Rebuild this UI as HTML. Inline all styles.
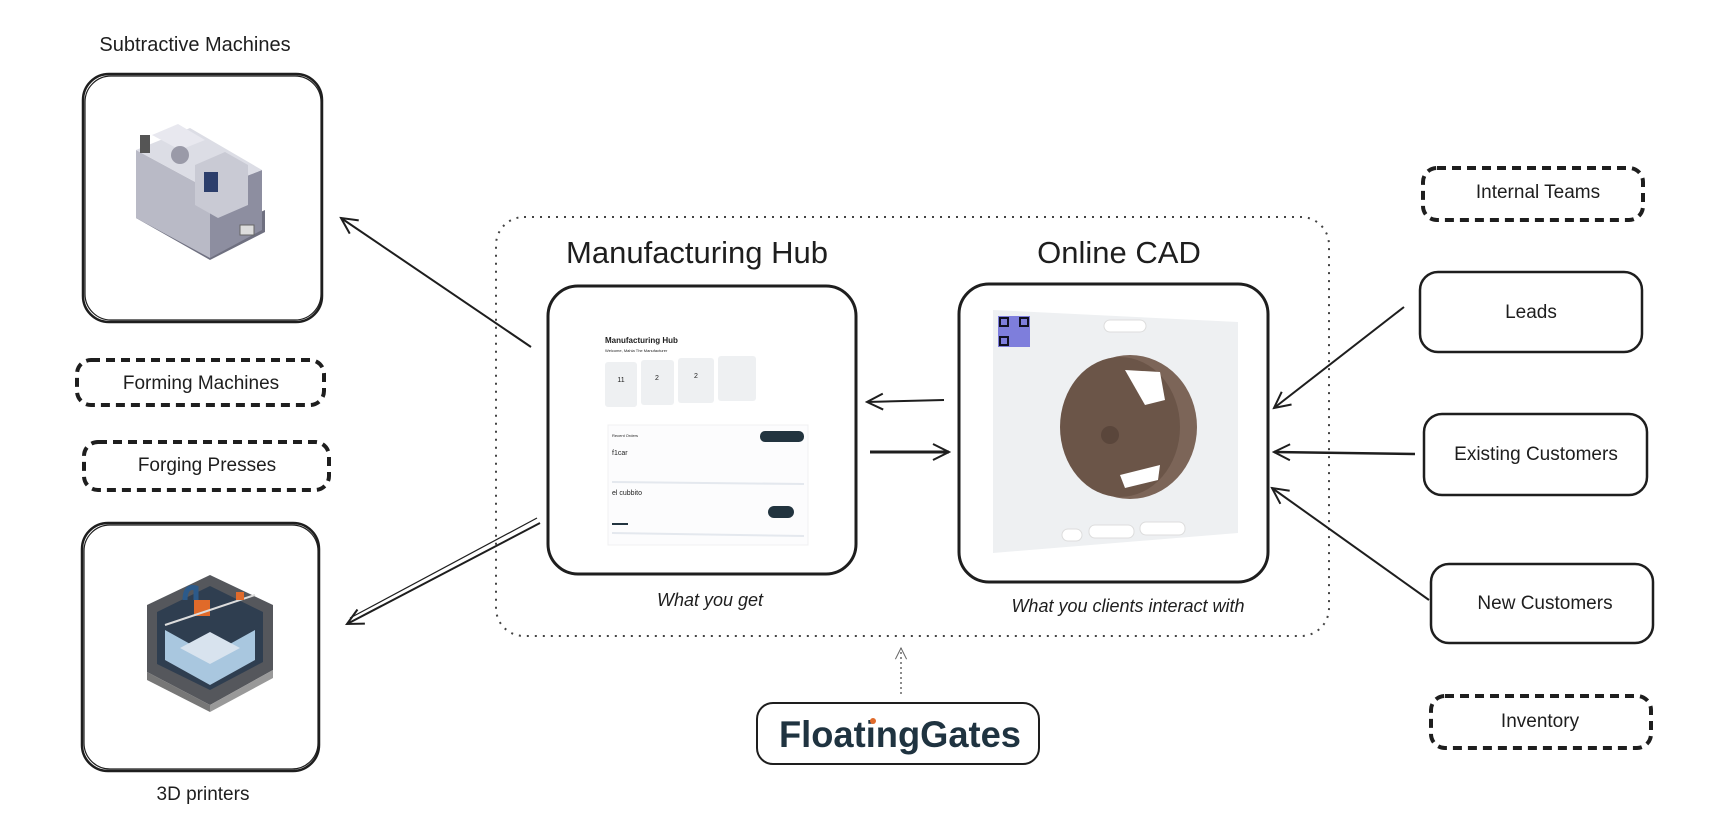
<!DOCTYPE html>
<html><head><meta charset="utf-8"><style>
html,body{margin:0;padding:0;background:#fff;width:1727px;height:835px;overflow:hidden}
svg{display:block}
text{font-family:"Liberation Sans",sans-serif;fill:#1e1e1e}
</style></head><body>
<svg width="1727" height="835" viewBox="0 0 1727 835" xmlns="http://www.w3.org/2000/svg">
<defs>
<marker id="ah" viewBox="0 0 20 20" refX="18" refY="10" markerWidth="20" markerHeight="20" markerUnits="userSpaceOnUse" orient="auto">
<path d="M2 2 L18 10 L2 18" fill="none" stroke="#1e1e1e" stroke-width="2"/>
</marker>
<marker id="ahs" viewBox="0 0 20 20" refX="18" refY="10" markerWidth="14" markerHeight="14" markerUnits="userSpaceOnUse" orient="auto">
<path d="M2 2 L18 10 L2 18" fill="none" stroke="#666" stroke-width="1.5"/>
</marker>
</defs>

<text x="195" y="51" font-size="20" text-anchor="middle">Subtractive Machines</text>
<rect x="83" y="74" width="239" height="248" rx="26" fill="none" stroke="#1e1e1e" stroke-width="2.5"/>
<rect x="85" y="76" width="236" height="244" rx="26" fill="none" stroke="#1e1e1e" stroke-width="1.2"/>
<g>
<polygon points="136,195 210,235 265,210 265,232 210,260 136,218" fill="#6f7080"/>
<polygon points="136,150 210,190 210,258 136,218" fill="#b9bac6"/>
<polygon points="210,190 262,170 262,230 210,258" fill="#8d8ea0"/>
<polygon points="136,150 190,128 262,170 210,190" fill="#dcdde5"/>
<polygon points="152,135 178,124 205,140 180,150" fill="#e8e8ef"/>
<polygon points="195,165 225,152 248,165 248,205 218,218 195,205" fill="#c9cad4"/>
<rect x="204" y="172" width="14" height="20" fill="#2c3e6b"/>
<circle cx="180" cy="155" r="9" fill="#9a9aa8"/>
<rect x="140" y="135" width="10" height="18" fill="#555"/>
<rect x="240" y="225" width="14" height="10" fill="#ddd" stroke="#666"/>
</g>
<rect x="77" y="360" width="247" height="45" rx="14" fill="none" stroke="#1e1e1e" stroke-width="4" stroke-dasharray="9 6"/>
<text x="201" y="389" font-size="19" text-anchor="middle">Forming Machines</text>
<rect x="84" y="442" width="245" height="48" rx="14" fill="none" stroke="#1e1e1e" stroke-width="4" stroke-dasharray="9 6"/>
<text x="207" y="471" font-size="19" text-anchor="middle">Forging Presses</text>
<rect x="82" y="523" width="237" height="248" rx="26" fill="none" stroke="#1e1e1e" stroke-width="2.5"/>
<rect x="84" y="525" width="234" height="244" rx="26" fill="none" stroke="#1e1e1e" stroke-width="1.2"/>
<g>
<polygon points="147,605 210,575 273,605 273,670 210,705 147,672" fill="#55575c"/>
<polygon points="157,612 210,586 263,612 263,662 210,690 157,664" fill="#2f3e50"/>
<polygon points="165,630 210,655 255,630 255,660 210,685 165,660" fill="#a9c7df"/>
<polygon points="180,648 210,664 240,648 210,632" fill="#d8e3ee"/>
<polygon points="147,672 210,705 210,712 147,680" fill="#777"/>
<polygon points="210,705 273,670 273,678 210,712" fill="#999"/>
<path d="M185 600 Q185 585 196 588 L196 600" fill="none" stroke="#2c5a8a" stroke-width="5"/>
<rect x="194" y="600" width="16" height="16" fill="#e06a2a"/>
<line x1="165" y1="625" x2="255" y2="595" stroke="#ddd" stroke-width="2"/>
<rect x="236" y="592" width="8" height="8" fill="#e06a2a"/>
</g>
<text x="203" y="800" font-size="19" text-anchor="middle">3D printers</text>

<rect x="496" y="217" width="833" height="419" rx="28" fill="none" stroke="#444" stroke-width="2" stroke-dasharray="2 6"/>
<text x="697" y="263" font-size="31" text-anchor="middle">Manufacturing Hub</text>
<text x="1119" y="263" font-size="31" text-anchor="middle">Online CAD</text>

<rect x="548" y="286" width="308" height="288" rx="30" fill="#fff" stroke="#1e1e1e" stroke-width="3"/>
<g>
<text x="605" y="343" font-size="8" font-weight="bold">Manufacturing Hub</text>
<text x="605" y="352" font-size="4" fill="#e55">Welcome, Mahia The Manufacturer</text>
<rect x="605" y="362" width="32" height="45" rx="3" fill="#eef0f2"/>
<rect x="641" y="360" width="33" height="45" rx="3" fill="#eef0f2"/>
<rect x="678" y="358" width="36" height="45" rx="3" fill="#eef0f2"/>
<rect x="718" y="356" width="38" height="45" rx="3" fill="#eef0f2"/>
<text x="621" y="382" font-size="7" text-anchor="middle">11</text>
<text x="657" y="380" font-size="7" text-anchor="middle">2</text>
<text x="696" y="378" font-size="7" text-anchor="middle">2</text>
<rect x="608" y="425" width="200" height="120" fill="#fcfcfd" stroke="#f0f0f2"/>
<text x="612" y="437" font-size="4">Recent Orders</text>
<rect x="760" y="431" width="44" height="11" rx="5" fill="#22343f"/>
<text x="612" y="455" font-size="7" fill="#444">f1car</text>
<line x1="612" y1="482" x2="804" y2="484" stroke="#e4e8ee" stroke-width="2"/>
<text x="612" y="495" font-size="7" fill="#444">el cubbito</text>
<rect x="768" y="506" width="26" height="12" rx="6" fill="#22343f"/>
<line x1="612" y1="524" x2="628" y2="524" stroke="#22343f" stroke-width="2"/>
<line x1="612" y1="533" x2="804" y2="536" stroke="#e4e8ee" stroke-width="2"/>
</g>
<text x="710" y="606" font-size="18" font-style="italic" text-anchor="middle" fill="#333">What you get</text>

<rect x="959" y="284" width="309" height="298" rx="30" fill="#fff" stroke="#1e1e1e" stroke-width="3"/>
<polygon points="993,310 1238,322 1238,533 993,553" fill="#eef0f2"/>
<rect x="998" y="316" width="32" height="31" fill="#6a6ad8" opacity="0.85"/>
<rect x="1000" y="318" width="8" height="8" fill="none" stroke="#112" stroke-width="2"/>
<rect x="1020" y="318" width="8" height="8" fill="none" stroke="#112" stroke-width="2"/>
<rect x="1000" y="337" width="8" height="8" fill="none" stroke="#112" stroke-width="2"/>
<rect x="1104" y="320" width="42" height="12" rx="6" fill="#fff" stroke="#ddd"/>
<ellipse cx="1130" cy="427" rx="67" ry="72" fill="#7c6558"/>
<ellipse cx="1120" cy="427" rx="60" ry="70" fill="#6b5548"/>
<path d="M1125 370 L1160 372 L1165 400 L1145 405 Z" fill="#fff"/>
<path d="M1120 475 L1160 465 L1158 480 L1125 488 Z" fill="#fff"/>
<circle cx="1110" cy="435" r="9" fill="#5a463b"/>
<rect x="1062" y="529" width="20" height="12" rx="6" fill="#fff" stroke="#ddd"/>
<rect x="1089" y="525" width="45" height="13" rx="6" fill="#fff" stroke="#ddd"/>
<rect x="1140" y="522" width="45" height="13" rx="6" fill="#fff" stroke="#ddd"/>
<text x="1128" y="612" font-size="18" font-style="italic" text-anchor="middle" fill="#333">What you clients interact with</text>

<line x1="944" y1="400" x2="867" y2="402" stroke="#1e1e1e" stroke-width="2" marker-end="url(#ah)"/>
<line x1="870" y1="452" x2="949" y2="452" stroke="#1e1e1e" stroke-width="3" marker-end="url(#ah)"/>
<line x1="531" y1="347" x2="341" y2="218" stroke="#1e1e1e" stroke-width="2" marker-end="url(#ah)"/>
<line x1="527" y1="344" x2="345" y2="221" stroke="#1e1e1e" stroke-width="1.2"/>
<line x1="540" y1="523" x2="347" y2="624" stroke="#1e1e1e" stroke-width="2" marker-end="url(#ah)"/>
<line x1="537" y1="518" x2="350" y2="618" stroke="#1e1e1e" stroke-width="1.2"/>

<line x1="901" y1="694" x2="901" y2="648" stroke="#666" stroke-width="1.5" stroke-dasharray="2 3" marker-end="url(#ahs)"/>
<rect x="757" y="703" width="282" height="61" rx="16" fill="none" stroke="#1e1e1e" stroke-width="2"/>
<text x="900" y="747" font-size="37" text-anchor="middle" style="fill:#1f3340" font-weight="600" textLength="242" lengthAdjust="spacingAndGlyphs">FloatingGates</text>
<circle cx="873" cy="721" r="3" fill="#e06a2a"/>

<rect x="1423" y="168" width="220" height="52" rx="14" fill="none" stroke="#1e1e1e" stroke-width="4" stroke-dasharray="9 6"/>
<text x="1538" y="198" font-size="19" text-anchor="middle">Internal Teams</text>
<rect x="1420" y="272" width="222" height="80" rx="18" fill="none" stroke="#1e1e1e" stroke-width="2.5"/>
<text x="1531" y="318" font-size="19" text-anchor="middle">Leads</text>
<rect x="1424" y="414" width="223" height="81" rx="18" fill="none" stroke="#1e1e1e" stroke-width="2.5"/>
<text x="1536" y="460" font-size="19" text-anchor="middle">Existing Customers</text>
<rect x="1431" y="564" width="222" height="79" rx="18" fill="none" stroke="#1e1e1e" stroke-width="2.5"/>
<text x="1545" y="609" font-size="19" text-anchor="middle">New Customers</text>
<rect x="1431" y="696" width="220" height="52" rx="14" fill="none" stroke="#1e1e1e" stroke-width="4" stroke-dasharray="9 6"/>
<text x="1540" y="727" font-size="19" text-anchor="middle">Inventory</text>

<line x1="1404" y1="307" x2="1274" y2="408" stroke="#1e1e1e" stroke-width="2" marker-end="url(#ah)"/>
<line x1="1415" y1="454" x2="1274" y2="452" stroke="#1e1e1e" stroke-width="2.5" marker-end="url(#ah)"/>
<line x1="1429" y1="600" x2="1272" y2="488" stroke="#1e1e1e" stroke-width="2" marker-end="url(#ah)"/>
</svg>
</body></html>
